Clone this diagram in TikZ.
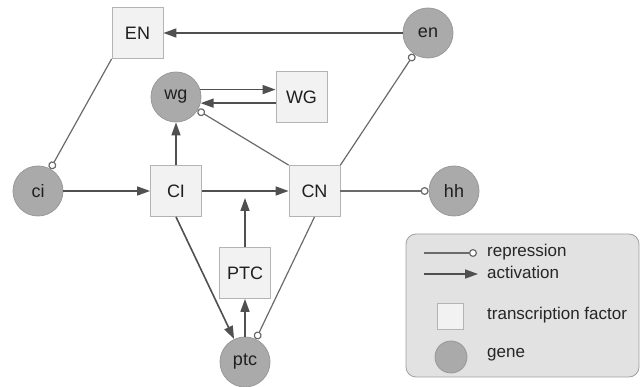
\documentclass[tikz,border=0pt]{standalone}
\usepackage{fontspec}
\setmainfont{Liberation Sans}
\usetikzlibrary{arrows.meta}
\definecolor{genefill}{HTML}{AAAAAA}
\definecolor{geneline}{HTML}{999999}
\definecolor{tffill}{HTML}{F2F2F2}
\definecolor{tfline}{HTML}{B4B4B4}
\definecolor{legfill}{HTML}{E2E2E2}
\definecolor{legline}{HTML}{A0A0A0}
\definecolor{edgecol}{HTML}{505050}
\tikzset{
  gene/.style={circle, draw=geneline, fill=genefill, line width=0.8pt, minimum size=50pt, inner sep=0pt, font=\fontsize{18}{21}\selectfont, text=black!88},
  tf/.style={rectangle, draw=tfline, fill=tffill, line width=0.8pt, minimum size=51pt, inner sep=0pt, font=\fontsize{18}{21}\selectfont, text=black!88},
  act/.style={draw=edgecol, line width=1.6pt, -{Triangle[length=13pt,width=9pt]}},
  rep/.style={draw=edgecol!85, line width=1.2pt, -{Circle[open,length=8pt,width=8pt,fill=white,line width=1.2pt]}},
  legtext/.style={anchor=west, inner sep=0pt, font=\fontsize{17}{20}\selectfont, text=black!85}
}
\begin{document}
\begin{tikzpicture}[x=1pt,y=-1pt]
\useasboundingbox (0,0) rectangle (643,387);
% nodes
\node[tf] (EN) at (137.5,33) {EN};
\node[gene] (en) at (428,33) {en};
\node[gene] (wg) at (176,97) {wg};
\node[tf] (WG) at (301.5,97) {WG};
\node[gene] (ci) at (38,191) {ci};
\node[tf] (CI) at (176,191) {CI};
\node[tf] (CN) at (314.5,191) {CN};
\node[gene] (hh) at (454,191) {hh};
\node[tf] (PTC) at (245,273) {PTC};
\node[gene] (ptc) at (245,362) {ptc};
\coordinate (mid) at (245,198);
% edges
\draw[act] (en) -- (EN);
\draw[rep] (EN.south west) -- (ci);
\draw[act] (wg.17) -- (WG.west |- wg.17);
\draw[act] (WG.west |- wg.-14) -- (wg.-14);
\draw[act] (CI) -- (wg);
\draw[rep] (CN.north west) -- (wg);
\draw[rep] (CN.north east) -- (en);
\draw[rep] (CN) -- (hh);
\draw[act] (ci) -- (CI);
\draw[act] (CI) -- (CN);
\draw[act] (PTC) -- (mid);
\draw[act] (CI.south) -- (ptc);
\draw[act] (ptc) -- (PTC);
\draw[rep] (CN.south) -- (ptc);
% legend
\node[draw=legline, fill=legfill, line width=0.8pt, rounded corners=10pt, minimum width=233pt, minimum height=143pt, inner sep=0pt] (leg) at (522.5,305.5) {};
\coordinate (r1) at (424,253);
\coordinate (r2) at (477,253);
\draw[rep] (r1) -- (r2);
\node[legtext] (lrep) at (487,252) {repression};
\coordinate (a1) at (424,274);
\coordinate (a2) at (478,274);
\draw[act] (a1) -- (a2);
\node[legtext] (lact) at (487,272) {activation};
\node[tf, minimum size=26pt] (ltf) at (450,316) {};
\node[legtext] (ltft) at (487,315) {transcription factor};
\node[gene, minimum size=32pt] (lgene) at (451,357) {};
\node[legtext] (lgt) at (487,355) {gene};
\end{tikzpicture}
\end{document}
